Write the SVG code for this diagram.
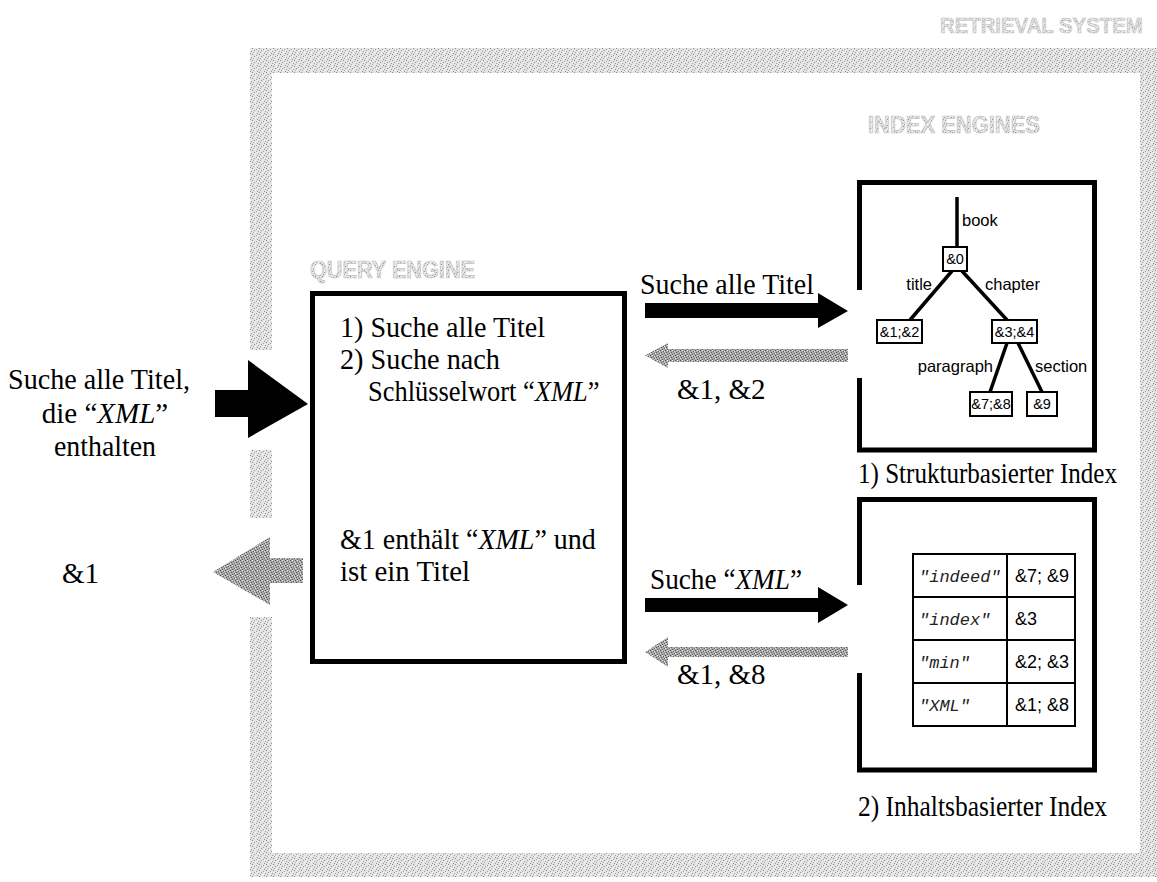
<svg xmlns="http://www.w3.org/2000/svg" width="1157" height="882" viewBox="0 0 1157 882">
<defs>
<pattern id="stipL" width="7" height="6" patternUnits="userSpaceOnUse">
<rect width="7" height="6" fill="#e4e4e4"/>
<rect x="0" y="0" width="1" height="1" fill="#8a8a8a"/>
<rect x="4" y="1" width="1" height="1" fill="#a0a0a0"/>
<rect x="2" y="2" width="1" height="1" fill="#959595"/>
<rect x="6" y="3" width="1" height="1" fill="#9c9c9c"/>
<rect x="1" y="4" width="1" height="1" fill="#a8a8a8"/>
<rect x="5" y="5" width="1" height="1" fill="#8e8e8e"/>
<rect x="3" y="4" width="1" height="1" fill="#f8f8f8"/>
<rect x="5" y="2" width="1" height="1" fill="#f8f8f8"/>
</pattern>
<pattern id="stipD" width="5" height="5" patternUnits="userSpaceOnUse">
<rect width="5" height="5" fill="#a9a9a9"/>
<rect x="0" y="0" width="1" height="1" fill="#505050"/>
<rect x="3" y="1" width="1" height="1" fill="#606060"/>
<rect x="1" y="2" width="1" height="1" fill="#585858"/>
<rect x="4" y="3" width="1" height="1" fill="#686868"/>
<rect x="2" y="4" width="1" height="1" fill="#5a5a5a"/>
<rect x="2" y="0" width="1" height="1" fill="#eeeeee"/>
<rect x="0" y="3" width="1" height="1" fill="#e8e8e8"/>
<rect x="4" y="1" width="1" height="1" fill="#dddddd"/>
</pattern>
<style>
.serif{font-family:"Liberation Serif","Times New Roman",serif;font-size:29px;fill:#000}
.it{font-style:italic}
.sans{font-family:"Liberation Sans",Arial,sans-serif;fill:#000}
.mono{font-family:"Liberation Mono","Courier New",monospace;font-style:italic;font-size:17px;fill:#222}
.ghost{font-family:"Liberation Sans",Arial,sans-serif;font-weight:bold;fill:url(#stipL);stroke:#c4c4c4;stroke-width:0.7}
.box{fill:none;stroke:#000;stroke-width:5}
.tree{stroke:#000;stroke-width:3.5}
.tbox{fill:#fff;stroke:#000;stroke-width:2}
.frame{fill:url(#stipL)}
.blk{fill:#000}
.gry{fill:url(#stipD)}
</style>
</defs>

<g id="retrieval-system">
<rect class="frame" x="250" y="48" width="915" height="25"/>
<rect class="frame" x="250" y="853" width="915" height="24"/>
<rect class="frame" x="1140" y="48" width="25" height="829"/>
<rect class="frame" x="250" y="48" width="22" height="302"/>
<rect class="frame" x="250" y="450" width="22" height="68"/>
<rect class="frame" x="250" y="617" width="22" height="260"/>
<text class="ghost" font-size="23" transform="translate(940,33) scale(0.885,1)">RETRIEVAL SYSTEM</text>
</g>

<g id="index-engines">
<text class="ghost" x="868" y="133" font-size="23" textLength="172" lengthAdjust="spacingAndGlyphs">INDEX ENGINES</text>
</g>

<g id="query-engine">
<text class="ghost" x="310" y="278" font-size="23" textLength="165" lengthAdjust="spacingAndGlyphs">QUERY ENGINE</text>
<rect class="box" x="312.5" y="293.5" width="312" height="368"/>
<text class="serif" x="340" y="337" textLength="205" lengthAdjust="spacingAndGlyphs">1) Suche alle Titel</text>
<text class="serif" x="340" y="369" textLength="160" lengthAdjust="spacingAndGlyphs">2) Suche nach</text>
<text class="serif" transform="translate(368,401) scale(0.913,1)">Schlüsselwort “<tspan class="it">XML</tspan>”</text>
<text class="serif" transform="translate(340,549) scale(0.966,1)">&amp;1 enthält “<tspan class="it">XML</tspan>” und</text>
<text class="serif" x="340" y="581" textLength="130" lengthAdjust="spacingAndGlyphs">ist ein Titel</text>
</g>

<g id="struct-index">
<path class="box" d="M859.5 290 V182.5 H1094.5 V450 H859.5 V378"/>
<line class="tree" x1="957" y1="197" x2="957" y2="247"/>
<line class="tree" x1="952" y1="271" x2="910" y2="320"/>
<line class="tree" x1="962" y1="271" x2="1007" y2="320"/>
<line class="tree" x1="1007" y1="343" x2="990" y2="392"/>
<line class="tree" x1="1018" y1="343" x2="1042" y2="392"/>
<rect class="tbox" x="943" y="247" width="24" height="24"/>
<rect class="tbox" x="877" y="320" width="45" height="23"/>
<rect class="tbox" x="992" y="320" width="45" height="23"/>
<rect class="tbox" x="970" y="392" width="42" height="24"/>
<rect class="tbox" x="1027" y="392" width="30" height="24"/>
<g class="sans" font-size="14.5" text-anchor="middle">
<text x="955" y="264">&amp;0</text>
<text x="899.5" y="337">&amp;1;&amp;2</text>
<text x="1014.5" y="337">&amp;3;&amp;4</text>
<text x="991" y="409">&amp;7;&amp;8</text>
<text x="1042" y="409">&amp;9</text>
</g>
<g class="sans" font-size="16.5">
<text x="962" y="226">book</text>
<text x="932" y="290" text-anchor="end">title</text>
<text x="985" y="290">chapter</text>
<text x="993" y="372" text-anchor="end">paragraph</text>
<text x="1035" y="372">section</text>
</g>
<text class="serif" x="858" y="483" textLength="259" lengthAdjust="spacingAndGlyphs">1) Strukturbasierter Index</text>
</g>

<g id="content-index">
<path class="box" d="M859.5 585 V499.5 H1094.5 V770 H859.5 V673"/>
<g fill="none" stroke="#000" stroke-width="2">
<rect x="913" y="554" width="162" height="172"/>
<line x1="1007" y1="554" x2="1007" y2="726"/>
<line x1="913" y1="597" x2="1075" y2="597"/>
<line x1="913" y1="640" x2="1075" y2="640"/>
<line x1="913" y1="683" x2="1075" y2="683"/>
</g>
<text class="mono" x="919" y="582">"indeed"</text>
<text class="mono" x="919" y="625">"index"</text>
<text class="mono" x="919" y="668">"min"</text>
<text class="mono" x="919" y="711" font-size="15">"XML"</text>
<g class="sans" font-size="18">
<text x="1015" y="582">&amp;7; &amp;9</text>
<text x="1015" y="625">&amp;3</text>
<text x="1015" y="668">&amp;2; &amp;3</text>
<text x="1015" y="711">&amp;1; &amp;8</text>
</g>
<text class="serif" x="858" y="816" textLength="249" lengthAdjust="spacingAndGlyphs">2) Inhaltsbasierter Index</text>
</g>

<g id="user-query">
<text class="serif" x="99" y="389" text-anchor="middle" textLength="182" lengthAdjust="spacingAndGlyphs">Suche alle Titel,</text>
<text class="serif" x="105" y="423" text-anchor="middle">die “<tspan class="it">XML</tspan>”</text>
<text class="serif" x="105" y="456" text-anchor="middle" textLength="102" lengthAdjust="spacingAndGlyphs">enthalten</text>
</g>

<g id="user-result">
<text class="serif" x="62" y="583">&amp;1</text>
</g>

<g id="connectors">
<polygon class="blk" points="215,390 248,390 248,360 308,404 248,438 248,417 215,417"/>
<polygon class="gry" points="303,558 270,558 270,537 213,572 270,605 270,583 303,583"/>
<polygon class="blk" points="645,303 818,303 818,293 848,311 818,328 818,318 645,318"/>
<polygon class="gry" points="848,349 668,349 668,343 645,355.5 668,368 668,362 848,362"/>
<polygon class="blk" points="645,598 818,598 818,587 848,605 818,623 818,612 645,612"/>
<polygon class="gry" points="848,647 668,647 668,637 645,652 668,667 668,657 848,657"/>
<text class="serif" x="640" y="294" textLength="174" lengthAdjust="spacingAndGlyphs">Suche alle Titel</text>
<text class="serif" x="677" y="399">&amp;1, &amp;2</text>
<text class="serif" transform="translate(650,589) scale(0.94,1)">Suche “<tspan class="it">XML</tspan>”</text>
<text class="serif" x="677" y="684">&amp;1, &amp;8</text>
</g>
</svg>
